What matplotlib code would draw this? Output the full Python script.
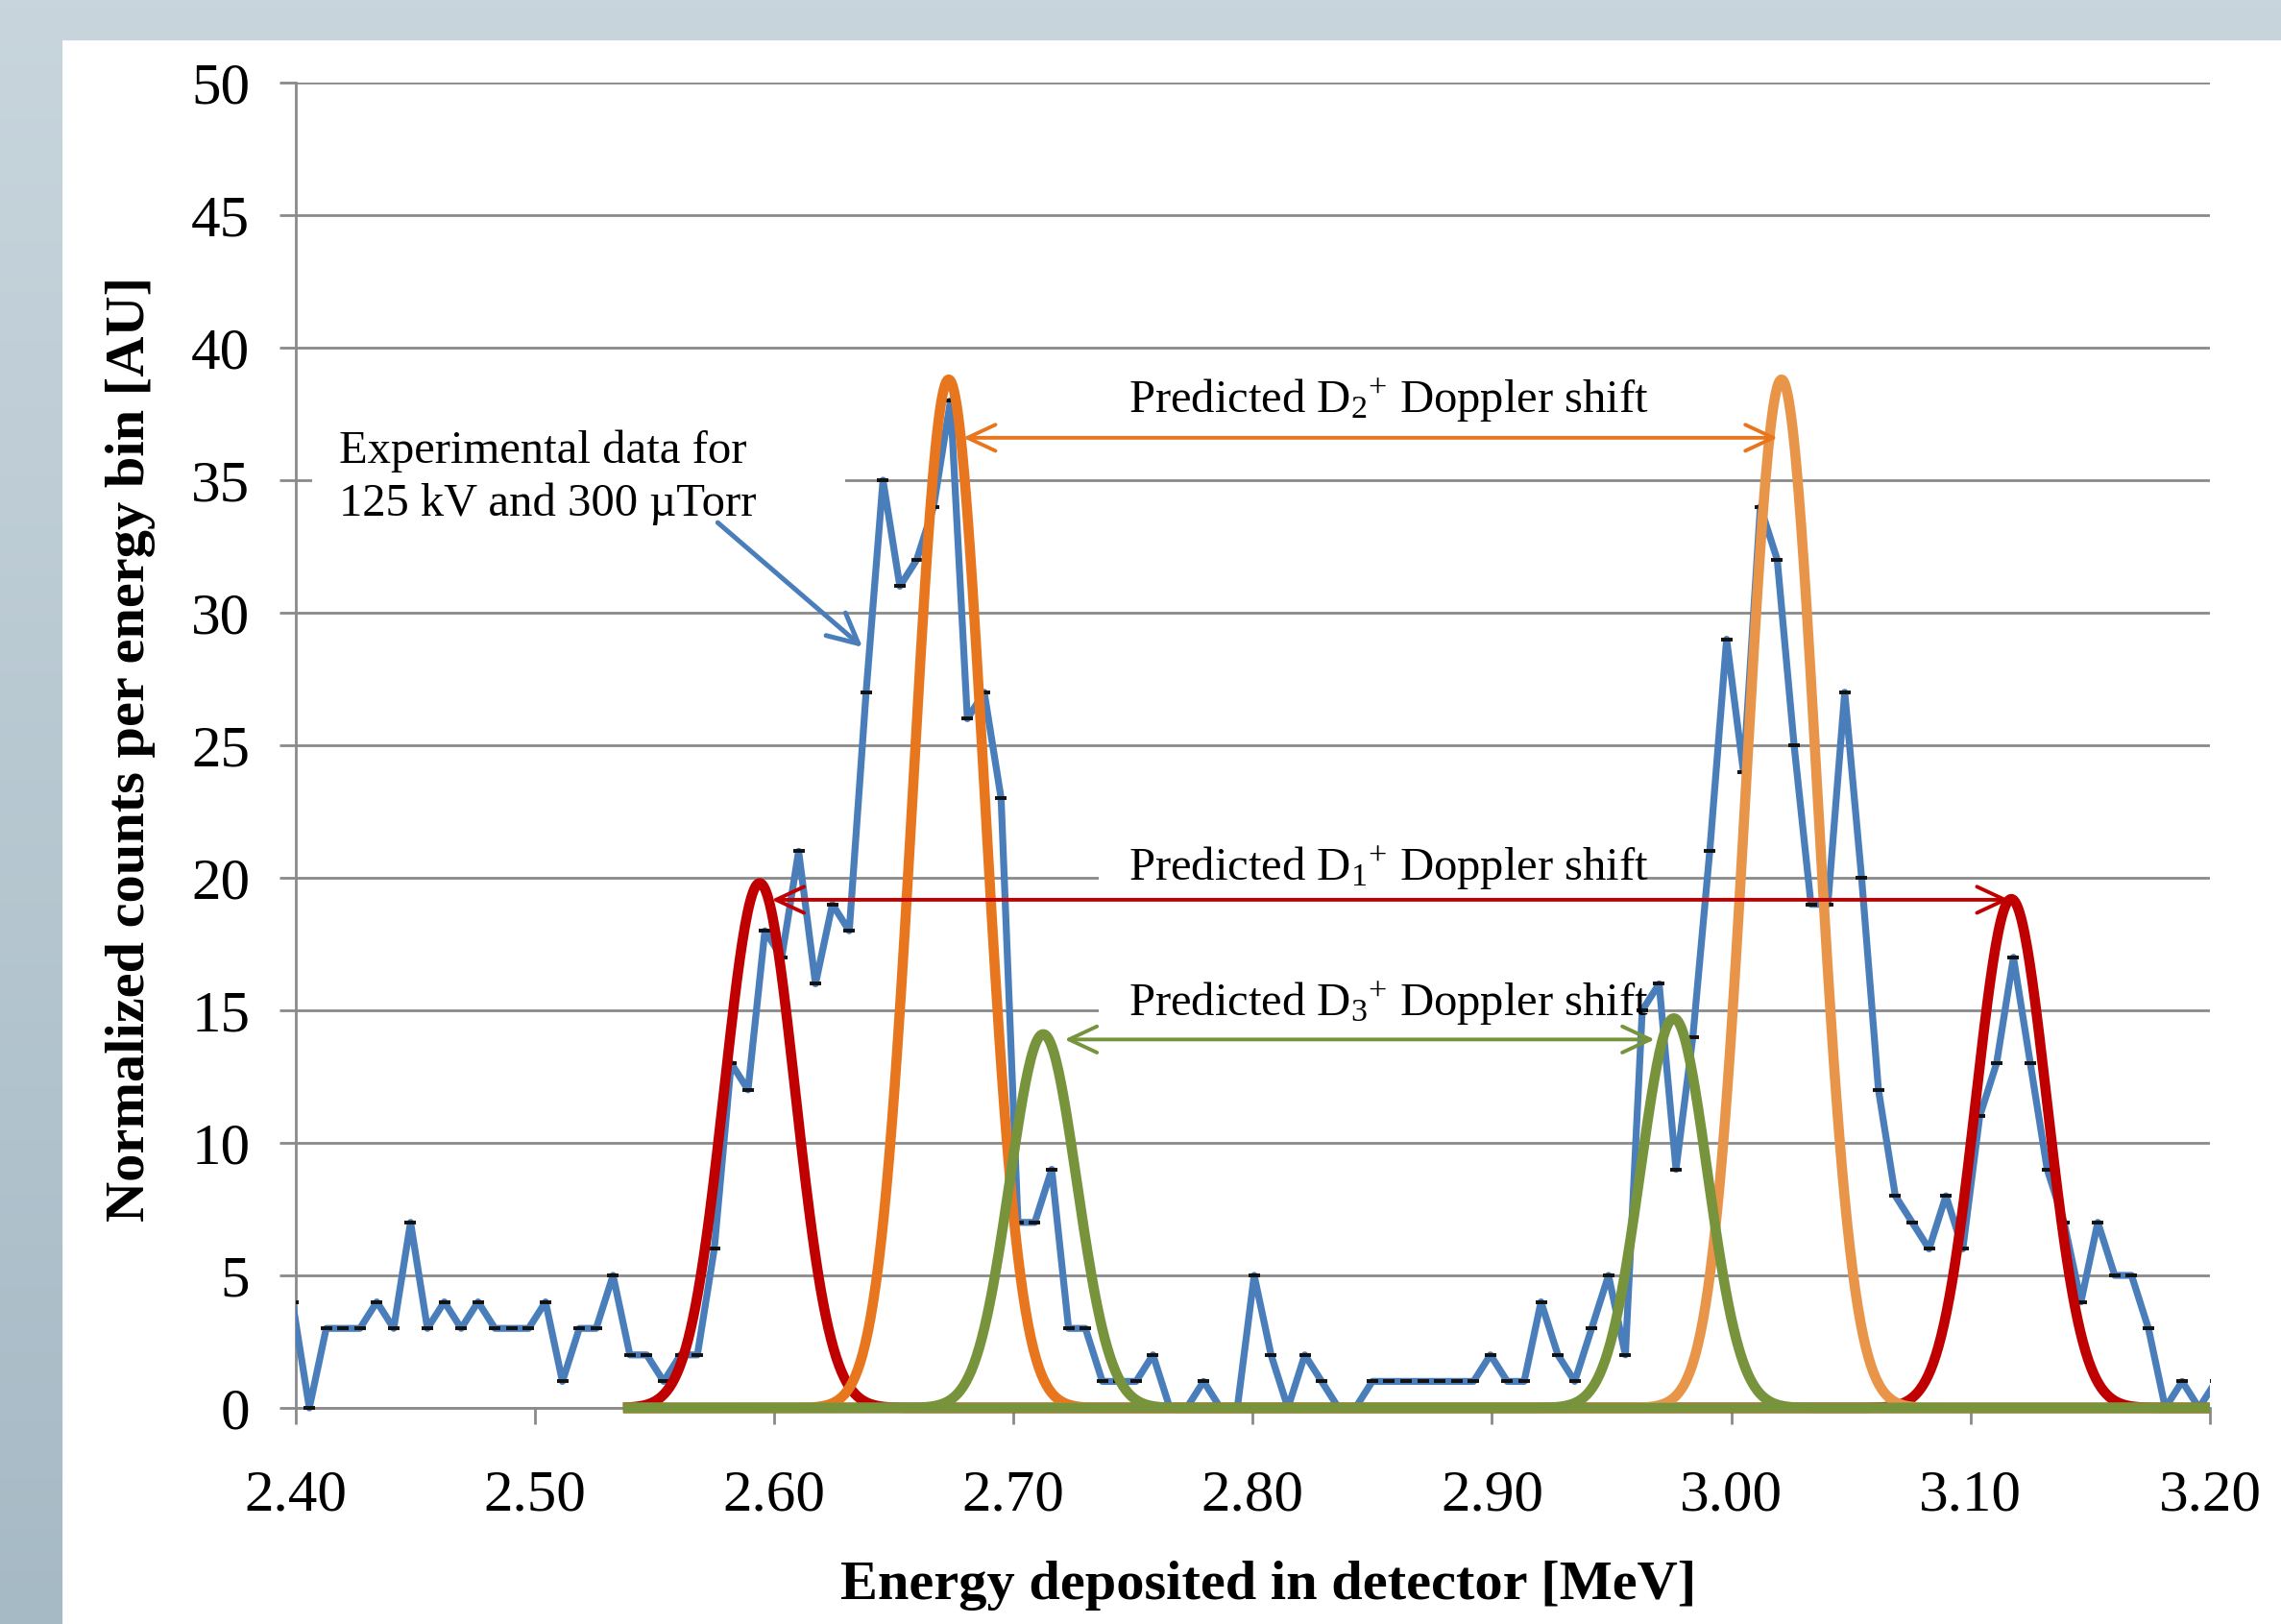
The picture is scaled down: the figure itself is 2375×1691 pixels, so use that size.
import numpy as np
import matplotlib
matplotlib.use("Agg")
import matplotlib.pyplot as plt
from matplotlib.patches import Rectangle

plt.rcParams['font.family'] = ['Liberation Serif', 'DejaVu Serif']
plt.rcParams['mathtext.fontset'] = 'custom'
plt.rcParams['mathtext.rm'] = 'Liberation Serif'
plt.rcParams['mathtext.it'] = 'Liberation Serif:italic'
plt.rcParams['mathtext.bf'] = 'Liberation Serif:bold'

# --- data -------------------------------------------------------------
# energy bins: first bin sits just left of 2.40 MeV, ~0.00705 MeV wide
bin_start = 2.3988
bin_width = 0.00705
counts = [4, 0, 3, 3, 3, 4, 3, 7, 3, 4,
          3, 4, 3, 3, 3, 4, 1, 3, 3, 5,
          2, 2, 1, 2, 2, 6, 13, 12, 18, 17,
          21, 16, 19, 18, 27, 35, 31, 32, 34, 38,
          26, 27, 23, 7, 7, 9, 3, 3, 1, 1,
          1, 2, 0, 0, 1, 0, 0, 5, 2, 0,
          2, 1, 0, 0, 1, 1, 1, 1, 1, 1,
          1, 2, 1, 1, 4, 2, 1, 3, 5, 2,
          15, 16, 9, 14, 21, 29, 24, 34, 32, 25,
          19, 19, 27, 20, 12, 8, 7, 6, 8, 6,
          11, 13, 17, 13, 9, 7, 4, 7, 5, 5,
          3, 0, 1, 0, 1]

# predicted Doppler-shifted peaks (centre [MeV], height, width)
d1_centres = [2.594, 3.117]
d1_heights = [19.8, 19.2]
d1_sigma = 0.0148
d2_centres = [2.673, 3.021]
d2_heights = [38.8, 38.8]
d2_sigma = 0.0148
d3_centres = [2.7125, 2.976]
d3_heights = [14.1, 14.7]
d3_sigma = 0.0140
curve_from, curve_to = 2.537, 3.20

x_ticks = [2.40, 2.50, 2.60, 2.70, 2.80, 2.90, 3.00, 3.10, 3.20]
y_ticks = list(range(0, 51, 5))

BLUE = '#4a7ebb'
RED = '#c00000'
ORANGE = '#e8761e'
ORANGE2 = '#e8954a'
GREEN = '#77933c'
GRID = '#8a8a8a'

W, H = 2375, 1691
fig = plt.figure(figsize=(W / 200, H / 200), dpi=200)

# slide-like background
bg = fig.add_axes([0, 0, 1, 1], zorder=-10)
bg.axis('off')
top_c = np.array([200, 213, 221]) / 255
bot_c = np.array([166, 186, 197]) / 255
t = np.linspace(0, 1, 256)[:, None, None]
bg.imshow(top_c + (bot_c - top_c) * t * np.ones((1, 2, 3)),
          aspect='auto', extent=[0, 1, 0, 1])
bg.add_patch(Rectangle((66 / W, 0), 1, 1 - 43 / H, color='white'))
bg.set_xlim(0, 1)
bg.set_ylim(0, 1)

ax = fig.add_axes([307.5 / W, (H - 1466) / H, (2301 - 307.5) / W, (1466 - 86) / H])
ax.set_facecolor('none')
ax.set_xlim(2.40, 3.20)
ax.set_ylim(0, 50)
ax.set_xticks(x_ticks)
ax.set_xticklabels([f'{v:.2f}' for v in x_ticks])
ax.set_yticks(y_ticks)
ax.yaxis.grid(True, color=GRID, lw=1.0)
ax.set_axisbelow(True)
for s in ['top', 'right']:
    ax.spines[s].set_visible(False)
for s in ['left', 'bottom']:
    ax.spines[s].set_color(GRID)
    ax.spines[s].set_linewidth(1.0)
ax.tick_params(axis='both', colors=GRID, labelcolor='black', labelsize=22,
               length=6, width=1.0)
ax.tick_params(axis='x', pad=17)
ax.tick_params(axis='y', pad=11)

# white boxes behind the text labels
for (x0, y0, w, h) in [(2.407, 32.8, 0.2227, 4.7),
                       (2.7356, 19.45, 0.2261, 2.2),
                       (2.7356, 14.35, 0.2261, 2.2)]:
    ax.add_patch(Rectangle((x0, y0), w, h, facecolor='white',
                           edgecolor='none', zorder=1.5))

# experimental data (clipped to the x range only)
energy = bin_start + bin_width * np.arange(len(counts))
clip = Rectangle((2.40, -3), 0.80, 56, transform=ax.transData)
data_line, = ax.plot(energy, counts, color=BLUE, lw=2.6, marker='_',
                     ms=4.0, mew=1.4, mec='#111111', zorder=3)
data_line.set_clip_path(clip)

# predicted peaks
xc = np.linspace(curve_from, curve_to, 1200)


def gauss(c, h, s):
    return h * np.exp(-0.5 * ((xc - c) / s) ** 2)


PEAK_LW = 3.8
for c, h in zip(d1_centres, d1_heights):
    ax.plot(xc, gauss(c, h, d1_sigma), color=RED, lw=PEAK_LW, zorder=4,
            clip_on=False, solid_capstyle='butt')
ax.plot(xc, gauss(d2_centres[0], d2_heights[0], d2_sigma), color=ORANGE,
        lw=PEAK_LW, zorder=4.1, clip_on=False, solid_capstyle='butt')
ax.plot(xc, gauss(d2_centres[1], d2_heights[1], d2_sigma), color=ORANGE2,
        lw=PEAK_LW, zorder=4.1, clip_on=False, solid_capstyle='butt')
for c, h in zip(d3_centres, d3_heights):
    ax.plot(xc, gauss(c, h, d3_sigma), color=GREEN, lw=PEAK_LW, zorder=4.2,
            clip_on=False, solid_capstyle='butt')

# double-headed shift arrows
arr = dict(shrinkA=0, shrinkB=0, lw=1.4)
head = '<->,head_length=0.75,head_width=0.35'
ax.annotate('', xy=(3.0194, 36.6), xytext=(2.679, 36.6), zorder=5,
            arrowprops=dict(arrowstyle=head, color=ORANGE, mutation_scale=14, **arr))
ax.annotate('', xy=(3.1162, 19.17), xytext=(2.599, 19.17), zorder=5,
            arrowprops=dict(arrowstyle=head, color=RED, mutation_scale=14, **arr))
ax.annotate('', xy=(2.968, 13.9), xytext=(2.7214, 13.9), zorder=5,
            arrowprops=dict(arrowstyle=head, color=GREEN, mutation_scale=14, **arr))
ax.annotate('', xy=(2.637, 28.7), xytext=(2.5765, 33.4), zorder=5,
            arrowprops=dict(arrowstyle='->,head_length=0.8,head_width=0.4',
                            color=BLUE, mutation_scale=14, shrinkA=0,
                            shrinkB=0, lw=1.8))

# annotations
txt = dict(fontsize=17.5, color='black', zorder=6, ha='left', va='baseline')
ax.text(2.7482, 37.55, r'Predicted D$_\mathrm{2}$$^\mathrm{+}$ Doppler shift', **txt)
ax.text(2.7482, 19.9, r'Predicted D$_\mathrm{1}$$^\mathrm{+}$ Doppler shift', **txt)
ax.text(2.7482, 14.8, r'Predicted D$_\mathrm{3}$$^\mathrm{+}$ Doppler shift', **txt)
ax.text(2.4183, 35.1, 'Experimental data for\n125 kV and 300 \u00b5Torr',
        fontsize=17.5, color='black', zorder=6, ha='left', va='center',
        linespacing=1.3)

fig.text(1321 / W, 1 - 1651 / H, 'Energy deposited in detector [MeV]',
         fontsize=21, fontweight='bold', ha='center', va='center')
fig.text(136 / W, 1 - 780 / H, 'Normalized counts per energy bin [AU]',
         fontsize=21, fontweight='bold', ha='center', va='center', rotation=90)

fig.savefig('out.png', dpi=200)
